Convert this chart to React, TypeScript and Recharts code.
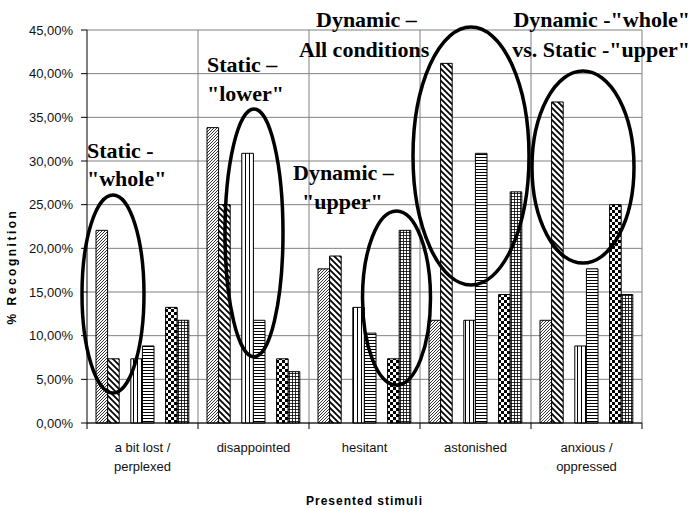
import { BarChart, Bar, XAxis, YAxis, CartesianGrid, ReferenceDot } from 'recharts'

const categories = ['a bit lost / perplexed', 'disappointed', 'hesitant', 'astonished', 'anxious / oppressed']
const categoryLines = [['a bit lost /', 'perplexed'], ['disappointed'], ['hesitant'], ['astonished'], ['anxious /', 'oppressed']]

// one array per hatched series (no legend in the source, so named by pattern)
const lightDiag = [22.06, 33.82, 17.65, 11.76, 11.76]
const boldDiag = [7.35, 25.0, 19.12, 41.18, 36.76]
const vertLines = [7.35, 30.88, 13.24, 11.76, 8.82]
const horizLines = [8.82, 11.76, 10.29, 30.88, 17.65]
const checker = [13.24, 7.35, 7.35, 14.71, 25.0]
const gridded = [11.76, 5.88, 22.06, 26.47, 14.71]

const yTicks = [0, 5, 10, 15, 20, 25, 30, 35, 40, 45]

const data = categories.map((name, i) => ({
  name,
  lightDiag: lightDiag[i],
  boldDiag: boldDiag[i],
  spacer1: null,
  vertLines: vertLines[i],
  horizLines: horizLines[i],
  spacer2: null,
  checker: checker[i],
  gridded: gridded[i],
}))

// annotation ellipses, anchored on a category and a value
const ellipses = [
  { cat: 0, value: 14.77, dx: -29.5, rx: 31, ry: 99 },
  { cat: 1, value: 21.76, dx: 0.5, rx: 29, ry: 124 },
  { cat: 2, value: 14.31, dx: 32, rx: 34, ry: 87 },
  { cat: 3, value: 30.57, dx: -4.5, rx: 58, ry: 129 },
  { cat: 4, value: 29.31, dx: -3.5, rx: 51, ry: 96 },
]

const notes = [
  { text: 'Static -', x: 87, y: 158, anchor: 'start' },
  { text: '"whole"', x: 87, y: 186, anchor: 'start' },
  { text: 'Static –', x: 207, y: 72, anchor: 'start' },
  { text: '"lower"', x: 207, y: 101, anchor: 'start' },
  { text: 'Dynamic –', x: 293, y: 180, anchor: 'start' },
  { text: '"upper"', x: 302, y: 209, anchor: 'start' },
  { text: 'Dynamic –', x: 316, y: 27, anchor: 'start' },
  { text: 'All conditions', x: 299, y: 57, anchor: 'start' },
  { text: 'Dynamic -"whole"', x: 690, y: 27, anchor: 'end' },
  { text: 'vs. Static -"upper"', x: 690, y: 57, anchor: 'end' },
]

const fmt = (v: number) => v.toFixed(2).replace('.', ',') + '%'
const sans = 'Liberation Sans, Arial, sans-serif'

const CategoryTick = (props: any) => {
  const { x, y, index } = props
  const lines = categoryLines[index] || []
  return (
    <g>
      {index === 0 && <line x1={x - 55.5} x2={x - 55.5} y1={y - 8} y2={y - 2} stroke="#000" />}
      <line x1={x + 55.5} x2={x + 55.5} y1={y - 8} y2={y - 2} stroke="#000" />
      {lines.map((l, i) => (
        <text key={i} x={x} y={y + 21 + i * 19} textAnchor="middle" fontSize={13} fill="#111" fontFamily={sans}>
          {l}
        </text>
      ))}
    </g>
  )
}

export default function App() {
  const barProps = { barSize: 11.6, stroke: '#000', strokeWidth: 1, isAnimationActive: false }
  return (
    <div style={{ position: 'absolute', left: 0, top: 0, width: 691, height: 508, background: '#fff' }}>
      <BarChart width={691} height={508} data={data} barGap={0}
        margin={{ top: 30, right: 49, left: 0, bottom: 0 }}>
        <defs>
          <pattern id="pLight" width="3" height="3" patternUnits="userSpaceOnUse">
            <rect width="3" height="3" fill="#fff" />
            <path d="M0,3 L3,0 M-1,1 L1,-1 M2,4 L4,2" stroke="#000" strokeWidth="0.8" />
          </pattern>
          <pattern id="pBold" width="6" height="6" patternUnits="userSpaceOnUse">
            <rect width="6" height="6" fill="#fff" />
            <path d="M0,0 L6,6 M-3,3 L3,9 M3,-3 L9,3" stroke="#000" strokeWidth="1.8" />
          </pattern>
          <pattern id="pVert" width="4" height="4" patternUnits="userSpaceOnUse">
            <rect width="4" height="4" fill="#fff" />
            <path d="M1.5,0 L1.5,4" stroke="#000" strokeWidth="1" />
          </pattern>
          <pattern id="pHoriz" width="3" height="3" patternUnits="userSpaceOnUse">
            <rect width="3" height="3" fill="#fff" />
            <path d="M0,1.5 L3,1.5" stroke="#000" strokeWidth="1" />
          </pattern>
          <pattern id="pCheck" width="6" height="6" patternUnits="userSpaceOnUse">
            <rect width="6" height="6" fill="#fff" />
            <rect width="3" height="3" fill="#000" />
            <rect x="3" y="3" width="3" height="3" fill="#000" />
          </pattern>
          <pattern id="pGrid" width="3" height="3" patternUnits="userSpaceOnUse">
            <rect width="3" height="3" fill="#fff" />
            <path d="M0,1.5 L3,1.5 M1.5,0 L1.5,3" stroke="#000" strokeWidth="0.8" />
          </pattern>
        </defs>
        <CartesianGrid
          stroke="#808080"
          verticalCoordinatesGenerator={({ offset }: any) =>
            [1, 2, 3, 4, 5].map((i) => offset.left + (i * offset.width) / 5)
          }
        />
        <XAxis dataKey="name" height={85} tickLine={false} interval={0}
          axisLine={{ stroke: '#000' }} tick={<CategoryTick />}
          label={{ value: 'Presented stimuli', position: 'insideBottom', offset: 3, fontSize: 12, fontWeight: 'bold', fill: '#000', fontFamily: sans, letterSpacing: 1 }} />
        <YAxis width={87} domain={[0, 45]} ticks={yTicks} tickFormatter={fmt}
          axisLine={{ stroke: '#000' }} tickLine={{ stroke: '#000' }} tickSize={6} tickMargin={8}
          tick={{ fontSize: 13, fill: '#111', fontFamily: sans }}
          label={{ value: '% Recognition', angle: -90, position: 'insideLeft', offset: 12, dy: 40, fontSize: 12, fontWeight: 'bold', fill: '#000', fontFamily: sans, letterSpacing: 2.5, style: { textAnchor: 'middle' } }} />
        <Bar dataKey="lightDiag" fill="url(#pLight)" {...barProps} />
        <Bar dataKey="boldDiag" fill="url(#pBold)" {...barProps} />
        <Bar dataKey="spacer1" fill="none" {...barProps} />
        <Bar dataKey="vertLines" fill="url(#pVert)" {...barProps} />
        <Bar dataKey="horizLines" fill="url(#pHoriz)" {...barProps} />
        <Bar dataKey="spacer2" fill="none" {...barProps} />
        <Bar dataKey="checker" fill="url(#pCheck)" {...barProps} />
        <Bar dataKey="gridded" fill="url(#pGrid)" {...barProps} />
        {ellipses.map((e, i) => (
          <ReferenceDot key={i} x={categories[e.cat]} y={e.value} r={1} ifOverflow="visible"
            shape={(p: any) => (
              <ellipse cx={p.cx + e.dx} cy={p.cy} rx={e.rx} ry={e.ry} fill="none" stroke="#000" strokeWidth={3.5} />
            )} />
        ))}
      </BarChart>
      <svg width={691} height={508} style={{ position: 'absolute', left: 0, top: 0, pointerEvents: 'none' }}>
        {notes.map((n, i) => (
          <text key={i} x={n.x} y={n.y} textAnchor={n.anchor as any} fontSize={22} fontWeight="bold"
            fontFamily="Liberation Serif, Times New Roman, serif" fill="#000">
            {n.text}
          </text>
        ))}
      </svg>
    </div>
  )
}
